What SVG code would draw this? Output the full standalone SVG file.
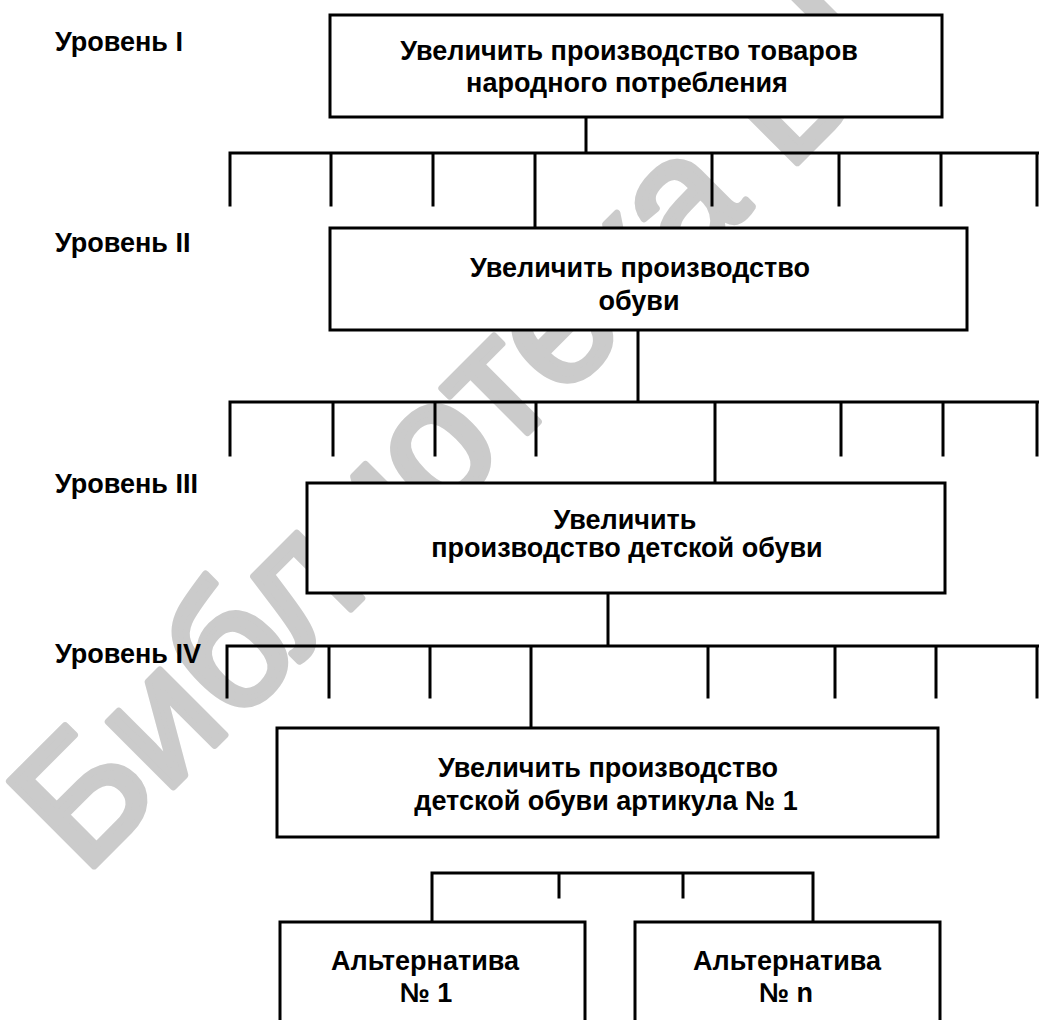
<svg xmlns="http://www.w3.org/2000/svg" width="1039" height="1020" viewBox="0 0 1039 1020">
  <style>
    .box { fill: #ffffff; stroke: #000000; stroke-width: 3; }
    .wire { fill: none; stroke: #000000; stroke-width: 3; stroke-linecap: square; }
    .lbl { font-family: "Liberation Sans", Arial, sans-serif; font-size: 27px; font-weight: bold; fill: #000000; }
    .mid { text-anchor: middle; }
    .wm { font-family: "Liberation Sans", Arial, sans-serif; font-size: 174px; fill: #cbcbcb; stroke: #cbcbcb; stroke-width: 7; stroke-linejoin: round; }
  </style>

  <rect width="1039" height="1020" fill="#ffffff"/>

  <!-- library stamp across the page -->
  <text class="wm" transform="translate(84,876) rotate(-45)">Библиотека БГ</text>

  <!-- level captions -->
  <g id="levels">
    <text class="lbl" x="55" y="51">Уровень I</text>
    <text class="lbl" x="55" y="252">Уровень II</text>
    <text class="lbl" x="55" y="493">Уровень III</text>
    <text class="lbl" x="55" y="663">Уровень IV</text>
  </g>

  <!-- connectors -->
  <g id="connectors" class="wire">
    <!-- level I -> II -->
    <path d="M586 117 V153 M230 153 H1039 M230 153 V205 M331 153 V205 M433 153 V205 M535 153 V228 M712 153 V205 M839 153 V205 M941 153 V205 M1037 153 V205"/>
    <!-- level II -> III -->
    <path d="M638 330 V402 M230 402 H1039 M230 402 V455 M333 402 V455 M435 402 V455 M536 402 V455 M715 402 V483 M841 402 V455 M943 402 V455 M1037 402 V455"/>
    <!-- level III -> IV -->
    <path d="M608 593 V646 M227 646 H1039 M227 646 V697 M329 646 V697 M430 646 V697 M531 646 V728 M708 646 V697 M835 646 V697 M936 646 V697 M1037 646 V697"/>
    <!-- alternatives -->
    <path d="M432 922 V873 H813 V922 M559 873 V897 M683 873 V897"/>
  </g>

  <g id="goal-1">
    <rect class="box" x="330" y="15" width="612" height="102"/>
    <text class="lbl mid" x="629" y="60">Увеличить производство товаров</text>
    <text class="lbl mid" x="627" y="92">народного потребления</text>
  </g>

  <g id="goal-2">
    <rect class="box" x="330" y="228" width="637" height="102"/>
    <text class="lbl mid" x="640" y="277">Увеличить производство</text>
    <text class="lbl mid" x="639" y="310">обуви</text>
  </g>

  <g id="goal-3">
    <rect class="box" x="307" y="483" width="638" height="110"/>
    <text class="lbl mid" x="625" y="529">Увеличить</text>
    <text class="lbl mid" x="627" y="557">производство детской обуви</text>
  </g>

  <g id="goal-4">
    <rect class="box" x="277" y="728" width="661" height="109"/>
    <text class="lbl mid" x="608" y="777">Увеличить производство</text>
    <text class="lbl mid" x="606" y="810">детской обуви артикула № 1</text>
  </g>

  <g id="alt-1">
    <rect class="box" x="280" y="922" width="305" height="110"/>
    <text class="lbl mid" x="425" y="970">Альтернатива</text>
    <text class="lbl mid" x="426" y="1002">№ 1</text>
  </g>

  <g id="alt-n">
    <rect class="box" x="635" y="922" width="305" height="110"/>
    <text class="lbl mid" x="787" y="970">Альтернатива</text>
    <text class="lbl mid" x="786" y="1002">№ n</text>
  </g>
</svg>
